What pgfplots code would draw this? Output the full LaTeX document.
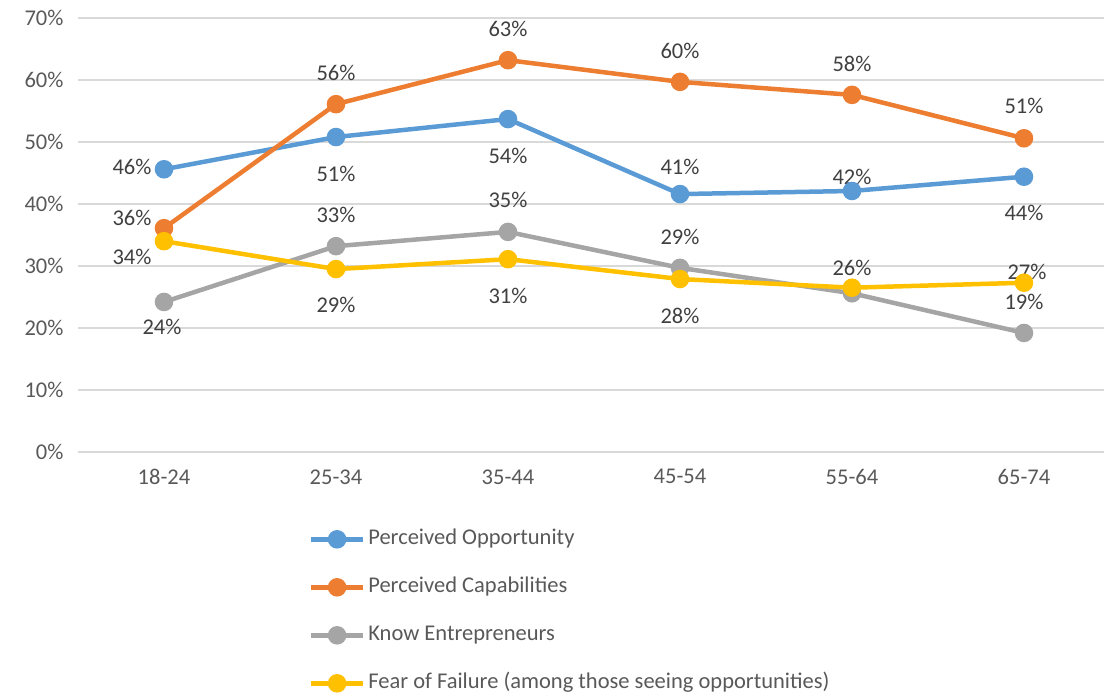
\documentclass[border=0pt]{standalone}
\usepackage{pgfplots}
\pgfplotsset{compat=1.18}
\usepackage{fontspec}
\setmainfont{Carlito}
\definecolor{cblue}{HTML}{5B9BD5}
\definecolor{corange}{HTML}{ED7D31}
\definecolor{cgray}{HTML}{A5A5A5}
\definecolor{cyellow}{HTML}{FFC000}
\definecolor{gridc}{HTML}{D9D9D9}
\definecolor{tickc}{HTML}{595959}
\definecolor{lblc}{HTML}{404040}
\begin{document}
\begin{tikzpicture}[x=1pt,y=1pt]
\useasboundingbox (0,0) rectangle (1104,694);
\begin{axis}[
  at={(78pt,242pt)}, anchor=south west,
  scale only axis, width=1032pt, height=434pt,
  xmin=-0.5, xmax=5.5, ymin=0, ymax=70,
  xtick={0,1,2,3,4,5},
  xticklabels={18-24,25-34,35-44,45-54,55-64,65-74},
  ytick={0,10,...,70},
  yticklabel={\pgfmathprintnumber{\tick}\%},
  /pgf/number format/assume math mode=true,
  axis line style={draw=none},
  major tick length=0pt,
  ymajorgrids, grid style={gridc, line width=1.5pt},
  tick label style={font=\fontsize{22.5}{27}\selectfont, text=tickc},
  yticklabel style={xshift=-11pt},
  xticklabel style={yshift=-14pt},
  clip=false,
  legend style={at={(axis description cs:0.2235,-0.18)}, anchor=north west,
    draw=none, fill=none, font=\fontsize{22.5}{27}\selectfont, text=tickc,
    row sep=30pt, inner sep=0pt,
    nodes={inner sep=0pt, text height=14pt, text depth=4pt, inner xsep=3pt}},
  legend cell align=left,
  legend image code/.code={\draw[mark repeat=2,mark phase=2] plot coordinates {(0pt,0pt) (26pt,0pt) (52pt,0pt)};},
  every axis plot/.append style={line width=4.5pt, mark=*, mark size=7pt, mark options={line width=0pt}},
]
\addplot[cblue, mark options={fill=cblue, draw=cblue}] coordinates {(0,45.6) (1,50.8) (2,53.7) (3,41.6) (4,42.1) (5,44.4)};
\addlegendentry{Perceived Opportunity}
\addplot[corange, mark options={fill=corange, draw=corange}] coordinates {(0,36.1) (1,56.1) (2,63.2) (3,59.7) (4,57.6) (5,50.6)};
\addlegendentry{Perceived Capabilities}
\addplot[cgray, mark options={fill=cgray, draw=cgray}] coordinates {(0,24.2) (1,33.2) (2,35.5) (3,29.7) (4,25.6) (5,19.2)};
\addlegendentry{Know Entrepreneurs}
\addplot[cyellow, mark options={fill=cyellow, draw=cyellow}] coordinates {(0,34.0) (1,29.5) (2,31.1) (3,27.9) (4,26.5) (5,27.3)};
\addlegendentry{Fear of Failure (among those seeing opportunities)}

\tikzset{lbl/.style={font=\fontsize{22.5}{27}\selectfont, text=lblc, inner sep=0pt, anchor=center}}
% blue
\node[lbl, xshift=-32pt, yshift=2pt] at (axis cs:0,45.6) {46\%};
\node[lbl, yshift=-37pt] at (axis cs:1,50.8) {51\%};
\node[lbl, yshift=-37pt] at (axis cs:2,53.7) {54\%};
\node[lbl, yshift=27pt] at (axis cs:3,41.6) {41\%};
\node[lbl, yshift=14pt] at (axis cs:4,42.1) {42\%};
\node[lbl, yshift=-36pt] at (axis cs:5,44.4) {44\%};
% orange
\node[lbl, xshift=-32pt, yshift=10pt] at (axis cs:0,36.1) {36\%};
\node[lbl, yshift=31pt] at (axis cs:1,56.1) {56\%};
\node[lbl, yshift=31pt] at (axis cs:2,63.2) {63\%};
\node[lbl, yshift=31pt] at (axis cs:3,59.7) {60\%};
\node[lbl, yshift=31pt] at (axis cs:4,57.6) {58\%};
\node[lbl, yshift=32pt] at (axis cs:5,50.6) {51\%};
% gray
\node[lbl, xshift=-2pt, yshift=-25pt] at (axis cs:0,24.2) {24\%};
\node[lbl, yshift=31pt] at (axis cs:1,33.2) {33\%};
\node[lbl, yshift=32pt] at (axis cs:2,35.5) {35\%};
\node[lbl, yshift=31pt] at (axis cs:3,29.7) {29\%};
\node[lbl, yshift=25pt] at (axis cs:4,25.6) {26\%};
\node[lbl, yshift=31pt] at (axis cs:5,19.2) {19\%};
% yellow
\node[lbl, xshift=-32pt, yshift=-16pt] at (axis cs:0,34.0) {34\%};
\node[lbl, yshift=-36pt] at (axis cs:1,29.5) {29\%};
\node[lbl, yshift=-37pt] at (axis cs:2,31.1) {31\%};
\node[lbl, yshift=-37pt] at (axis cs:3,27.9) {28\%};
\node[lbl, xshift=3pt, yshift=11pt] at (axis cs:5,27.3) {27\%};
\end{axis}
\end{tikzpicture}
\end{document}
